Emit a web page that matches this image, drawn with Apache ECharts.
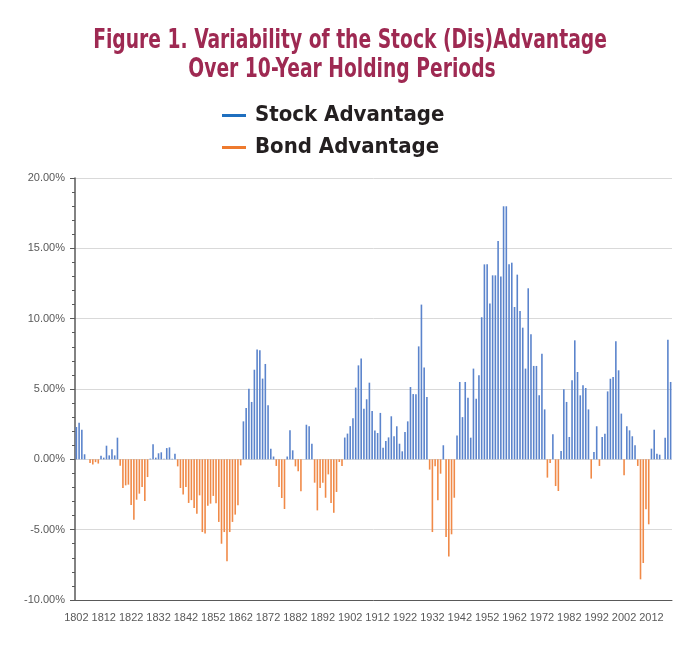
<!DOCTYPE html>
<html>
<head>
<meta charset="utf-8">
<script src="https://cdn.jsdelivr.net/npm/echarts@6/dist/echarts.min.js"></script>
<style>
  html, body { margin: 0; padding: 0; background: #ffffff; }
  #chart { width: 700px; height: 660px; }
</style>
</head>
<body>
<div id="chart"></div>
<script>
// Start years of each 10-year holding period
const firstYear = 1802;
const lastYear = 2019;

// Stock return minus bond return over each 10-year period (percent)
const advantage = [
  2.3, 2.6, 2.1, 0.36, 0, -0.26, -0.36, -0.2, -0.3, 0.26,          // 1802-1811
  0.12, 0.97, 0.28, 0.71, 0.28, 1.54, -0.45, -2.04, -1.85, -1.8,   // 1812-1821
  -3.25, -4.3, -2.87, -2.44, -1.97, -2.96, -1.26, 0.05, 1.07, 0.12,// 1822-1831
  0.43, 0.5, 0.04, 0.8, 0.85, 0.04, 0.4, -0.5, -2.04, -2.5,        // 1832-1841
  -1.97, -3.1, -2.9, -3.46, -3.86, -2.56, -5.17, -5.28, -3.3, -3.15, // 1842-1851
  -2.6, -3.13, -4.45, -6.0, -5.17, -7.25, -5.17, -4.45, -3.93, -3.27, // 1852-1861
  -0.43, 2.7, 3.65, 5.02, 4.08, 6.37, 7.8, 7.75, 5.74, 6.78,       // 1862-1871
  3.84, 0.76, 0.2, -0.47, -1.97, -2.75, -3.53, 0.2, 2.06, 0.64,    // 1872-1881
  -0.5, -0.85, -2.27, 0, 2.46, 2.35, 1.11, -1.66, -3.63, -2.04,    // 1882-1891
  -1.66, -2.73, -1.07, -3.1, -3.8, -2.32, -0.19, -0.47, 1.55, 1.83, // 1892-1901
  2.36, 2.92, 5.1, 6.68, 7.16, 3.6, 4.27, 5.45, 3.44, 2.05,        // 1902-1911
  1.87, 3.3, 0.83, 1.3, 1.56, 3.06, 1.64, 2.35, 1.11, 0.57,        // 1912-1921
  1.94, 2.7, 5.14, 4.64, 4.62, 8.03, 11.0, 6.52, 4.43, -0.73,      // 1922-1931
  -5.17, -0.5, -2.91, -1.02, 1.0, -5.52, -6.9, -5.33, -2.73, 1.7,  // 1932-1941
  5.5, 3.0, 5.5, 4.38, 1.54, 6.45, 4.31, 5.97, 10.1, 13.86,        // 1942-1951
  13.86, 11.07, 13.08, 13.08, 15.52, 13.0, 17.99, 17.99, 13.86, 13.98, // 1952-1961
  10.83, 13.13, 10.55, 9.36, 6.45, 12.16, 8.89, 6.64, 6.64, 4.55,  // 1962-1971
  7.51, 3.55, -1.3, -0.26, 1.78, -1.9, -2.25, 0.59, 4.98, 4.08,    // 1972-1981
  1.59, 5.62, 8.46, 6.21, 4.55, 5.26, 5.07, 3.55, -1.37, 0.52,     // 1982-1991
  2.35, -0.47, 1.59, 1.82, 4.83, 5.73, 5.85, 8.39, 6.33, 3.25,     // 1992-2001
  -1.14, 2.35, 2.06, 1.64, 1.0, -0.47, -8.53, -7.37, -3.55, -4.62, // 2002-2011
  0.76, 2.11, 0.4, 0.33, 0, 1.54, 8.51, 5.5                        // 2012-2019
];

const seriesNames = ['Stock Advantage', 'Bond Advantage'];
const titleLines = ['Figure 1. Variability of the Stock (Dis)Advantage', 'Over 10-Year Holding Periods'];
const yTicks = { min: -10, max: 20, step: 5 };

const years = [];
for (let y = firstYear; y <= lastYear; y++) years.push(String(y));
const stockData = advantage.map(v => (v > 0 ? v : null));
const bondData = advantage.map(v => (v < 0 ? v : null));

const narrowFont = '"Liberation Sans Narrow", "DejaVu Sans Condensed", sans-serif';
const titleStyle = {
  fontFamily: narrowFont,
  fontWeight: 'bold',
  fontSize: 26,
  fill: '#9e2952',
  textAlign: 'center',
  textVerticalAlign: 'top'
};

const chart = echarts.init(document.getElementById('chart'), null, { renderer: 'canvas' });
chart.setOption({
  backgroundColor: '#ffffff',
  animation: false,
  graphic: [
    { type: 'text', x: 350, y: 28, scaleX: 0.8, style: Object.assign({ text: titleLines[0] }, titleStyle) },
    { type: 'text', x: 342, y: 57, scaleX: 0.8, style: Object.assign({ text: titleLines[1] }, titleStyle) }
  ],
  legend: {
    orient: 'vertical',
    left: 217,
    top: 98,
    itemWidth: 24,
    itemHeight: 3,
    itemGap: 7,
    icon: 'rect',
    data: [
      { name: seriesNames[0], itemStyle: { color: '#1f6fbf' } },
      { name: seriesNames[1], itemStyle: { color: '#ee7a2e' } }
    ],
    textStyle: {
      fontFamily: narrowFont,
      fontWeight: 'bold',
      fontSize: 22,
      lineHeight: 25,
      color: '#231f20',
      padding: [0, 0, 0, 4]
    }
  },
  grid: { left: 75, right: 28, top: 178, bottom: 60, containLabel: false },
  xAxis: {
    type: 'category',
    data: years,
    boundaryGap: true,
    axisLine: { onZero: false, lineStyle: { color: '#595959', width: 1 } },
    axisTick: { show: false },
    axisLabel: {
      interval: 9,
      color: '#595959',
      fontFamily: '"Liberation Sans", Arial, sans-serif',
      fontSize: 11,
      margin: 12
    },
    splitLine: { show: false }
  },
  yAxis: {
    type: 'value',
    min: yTicks.min,
    max: yTicks.max,
    interval: yTicks.step,
    axisLine: { show: true, lineStyle: { color: '#595959', width: 1.5 } },
    axisTick: { show: true, length: 5, lineStyle: { color: '#595959' } },
    minorTick: { show: true, splitNumber: 5, length: 3, lineStyle: { color: '#595959' } },
    axisLabel: {
      formatter: v => v.toFixed(2) + '%',
      color: '#595959',
      fontFamily: '"Liberation Sans", Arial, sans-serif',
      fontSize: 11,
      margin: 10
    },
    splitLine: { show: true, lineStyle: { color: '#d9d9d9', width: 1 } }
  },
  series: [
    {
      name: seriesNames[0],
      type: 'bar',
      data: stockData,
      barWidth: 1.6,
      barGap: '-100%',
      itemStyle: { color: '#5b84cc' }
    },
    {
      name: seriesNames[1],
      type: 'bar',
      data: bondData,
      barWidth: 1.6,
      barGap: '-100%',
      itemStyle: { color: '#f08a48' }
    }
  ]
});
</script>
</body>
</html>
